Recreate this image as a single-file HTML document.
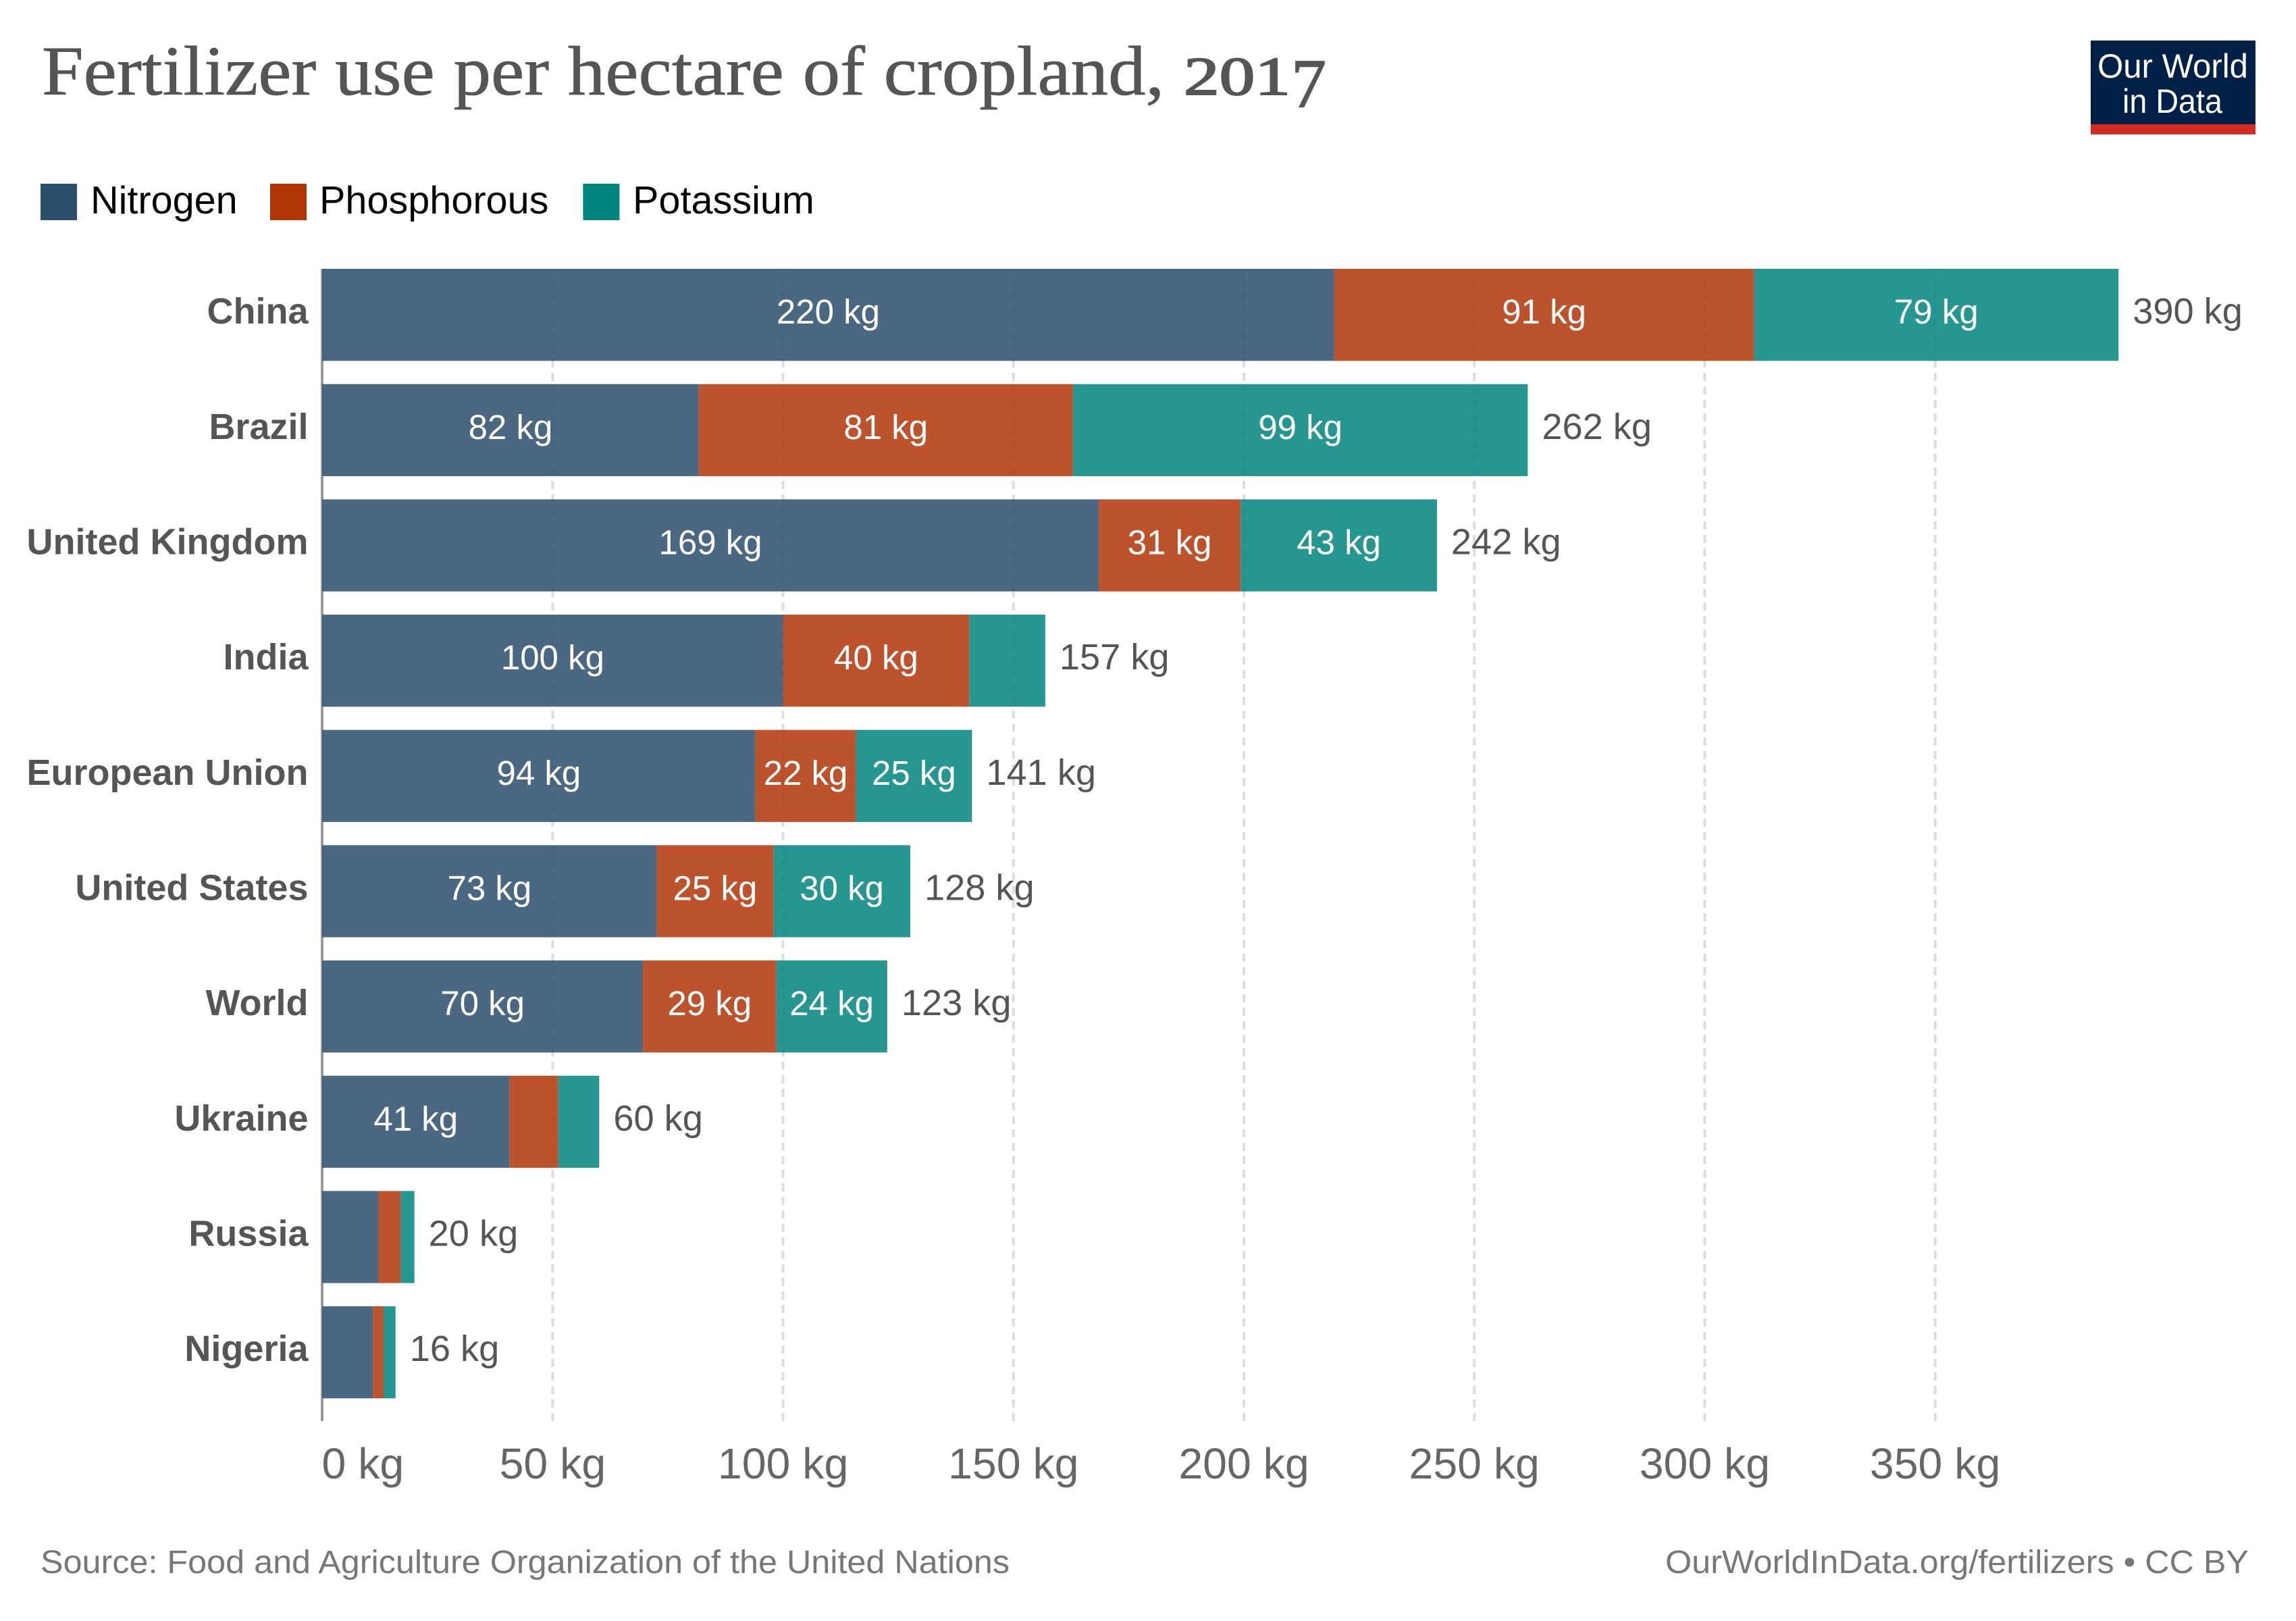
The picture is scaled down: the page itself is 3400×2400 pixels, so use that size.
<!DOCTYPE html>
<html lang="en">
<head>
<meta charset="utf-8">
<title>Fertilizer use per hectare of cropland, 2017</title>
<style>
html,body{margin:0;padding:0;background:#fff;}
svg{display:block;}
text{font-family:"Liberation Sans",Arial,sans-serif;}
</style>
</head>
<body>
<svg id="chart" xmlns="http://www.w3.org/2000/svg" width="3400" height="2400" viewBox="0 0 3400 2400">
  <rect x="0" y="0" width="3400" height="2400" fill="#ffffff"/>
  <text x="62" y="140" font-size="104" fill="#555555" stroke="#555555" stroke-width="0.8" style="font-family:'Liberation Serif',Georgia,serif"><tspan x="62" y="140" textLength="1690" lengthAdjust="spacingAndGlyphs">Fertilizer use per hectare of cropland, </tspan><tspan x="1753" y="140" font-size="81" stroke-width="2" textLength="158" lengthAdjust="spacingAndGlyphs">201</tspan><tspan x="1912" y="158" font-size="103" stroke-width="1.5" textLength="52" lengthAdjust="spacingAndGlyphs">7</tspan></text>

  <g>
    <rect x="3096" y="60" width="244" height="124" fill="#002147"/>
    <rect x="3096" y="184" width="244" height="15" fill="#d42b21"/>
    <text x="3106" y="115" font-size="50" fill="#ffffff" textLength="223" lengthAdjust="spacingAndGlyphs">Our World</text>
    <text x="3143" y="167" font-size="50" fill="#ffffff" textLength="148" lengthAdjust="spacingAndGlyphs">in Data</text>
  </g>

  <g>
    <rect x="60" y="272" width="54" height="54" fill="#2a4e6c"/>
    <text x="134" y="316" font-size="57.6" fill="#000000">Nitrogen</text>
    <rect x="400" y="272" width="54" height="54" fill="#b13507"/>
    <text x="473" y="316" font-size="57.6" fill="#000000">Phosphorous</text>
    <rect x="863.4" y="272" width="54" height="54" fill="#00847e"/>
    <text x="937" y="316" font-size="57.6" fill="#000000">Potassium</text>
  </g>

  <g id="grid"></g>
  <line x1="477" y1="398" x2="477" y2="2104" stroke="#999999" stroke-width="4"/>
  <g id="bars"></g>
  <g id="ticks"></g>

  <text x="60" y="2329" font-size="48" fill="#777777" textLength="1435" lengthAdjust="spacingAndGlyphs">Source: Food and Agriculture Organization of the United Nations</text>
  <text x="2466" y="2329" font-size="48" fill="#777777" textLength="864" lengthAdjust="spacingAndGlyphs">OurWorldInData.org/fertilizers • CC BY</text>
</svg>

<script>
const categories = ["China", "Brazil", "United Kingdom", "India", "European Union", "United States", "World", "Ukraine", "Russia", "Nigeria"];
const nitrogenValues = [219.6, 81.7, 168.5, 100, 94, 72.6, 69.6, 40.6, 12.2, 11];
const phosphorousValues = [91.1, 81.2, 30.8, 40.4, 21.8, 25.3, 28.9, 10.6, 4.8, 2.3];
const potassiumValues = [79.1, 98.7, 42.6, 16.5, 25.2, 29.7, 24.1, 8.9, 3.0, 2.6];
const seriesNames = ["nitrogen", "phosphorous", "potassium"];
const tickValues = [0, 50, 100, 150, 200, 250, 300, 350];
const unitSuffix = " kg";

const SVG_NS = "http://www.w3.org/2000/svg";
const seriesColors = ["#2a4e6c", "#b13507", "#00847e"];
const plot = { x0: 477.2, kgToPx: 6.824, top: 398, bottom: 2104, pitch: 170.67, barHeight: 136.3 };
const minLabelledValue = 20;

function xScale(v) { return plot.x0 + v * plot.kgToPx; }
function rowTop(i) { return plot.top + i * plot.pitch; }
function slug(s) { return s.toLowerCase().replace(/\s+/g, "-"); }
function make(tag, attrs, parent, content) {
  const el = document.createElementNS(SVG_NS, tag);
  for (const k in attrs) el.setAttribute(k, attrs[k]);
  if (content !== undefined) el.textContent = content;
  parent.appendChild(el);
  return el;
}

const gridGroup = document.getElementById("grid");
const ticksGroup = document.getElementById("ticks");
const barsGroup = document.getElementById("bars");

tickValues.forEach(function (t) {
  if (t !== 0) {
    const line = make("line", { x1: xScale(t), x2: xScale(t), y1: plot.bottom, y2: plot.top, stroke: "#dddddd", "stroke-width": 4, "stroke-dasharray": "12 8" }, gridGroup);
    
    
  }
  const label = make("text", { x: t === 0 ? xScale(t) - 0.7 : xScale(t), y: 2189, "font-size": 64.4, fill: "#666666", "text-anchor": t === 0 ? "start" : "middle" }, ticksGroup, t + unitSuffix);
  
  
});

categories.forEach(function (name, i) {
  const segments = [nitrogenValues[i], phosphorousValues[i], potassiumValues[i]];
  const y = rowTop(i);
  const mid = y + plot.barHeight / 2;
  const baseline = mid + 13;

  const catLabel = make("text", { x: 456.5, y: baseline, "font-size": 54, "font-weight": "bold", fill: "#555555", "text-anchor": "end" }, barsGroup, name);
  
  

  let cumulative = 0;
  segments.forEach(function (value, s) {
    const xa = xScale(cumulative);
    const xb = xScale(cumulative + value);
    const rect = make("rect", { x: xa, y: y, width: xb - xa, height: plot.barHeight, fill: seriesColors[s], opacity: 0.85 }, barsGroup);
    
    
    cumulative += value;
  });

  cumulative = 0;
  segments.forEach(function (value, s) {
    if (value >= minLabelledValue) {
      const cx = xScale(cumulative + value / 2);
      const valueLabel = make("text", { x: cx, y: baseline, "font-size": 51, fill: "#ffffff", "text-anchor": "middle" }, barsGroup, Math.round(value) + unitSuffix);
      
      
    }
    cumulative += value;
  });

  const totalLabel = make("text", { x: xScale(cumulative) + 21, y: baseline, "font-size": 54.2, fill: "#555555" }, barsGroup, Math.round(cumulative) + unitSuffix);
  
  
});
</script>
</body>
</html>
